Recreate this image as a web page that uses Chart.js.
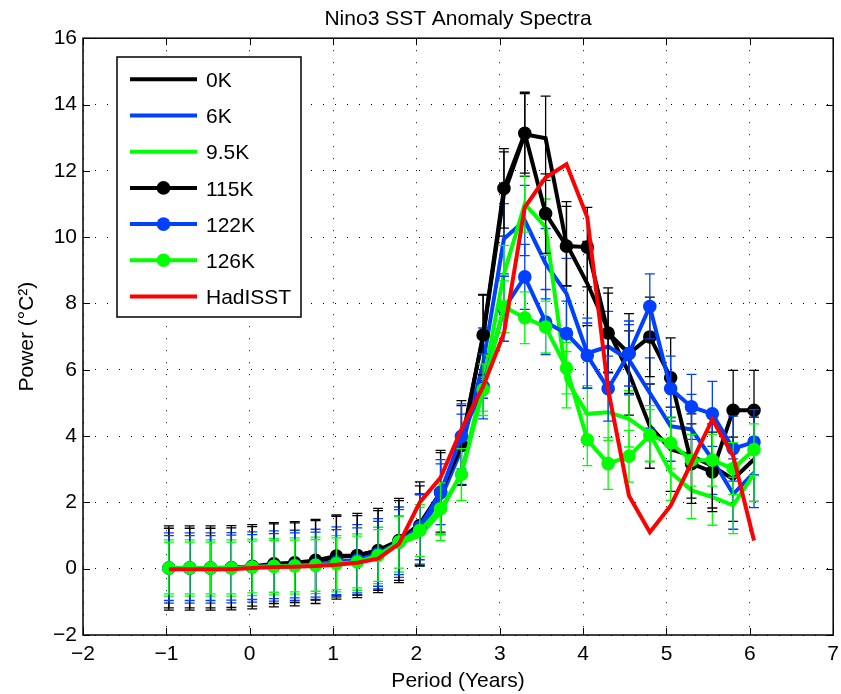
<!DOCTYPE html>
<html>
<head>
<meta charset="utf-8">
<script src="https://cdn.jsdelivr.net/npm/chart.js@4.4.1/dist/chart.umd.min.js"></script>
<style>
  html, body { margin: 0; padding: 0; background: #fff; }
</style>
</head>
<body>
<canvas id="spectra" width="841" height="694"></canvas>
<script>
// period of each spectral estimate (years)
const periods = [-0.97, -0.72, -0.47, -0.22, 0.03, 0.29, 0.54, 0.79, 1.04, 1.29, 1.54, 1.79, 2.04, 2.29, 2.54,
                 2.80, 3.05, 3.30, 3.55, 3.80, 4.05, 4.30, 4.55, 4.80, 5.05, 5.30, 5.55, 5.80, 6.05];

const power0K   = [0.02, 0.02, 0.02, 0.03, 0.06, 0.12, 0.15, 0.22, 0.35, 0.40, 0.55, 0.85, 1.35, 2.30, 3.80,
                   7.00, 11.30, 13.10, 12.98, 9.80, 8.60, 7.20, 5.90, 4.30, 3.60, 3.40, 3.10, 2.70, 3.30];
const power6K   = [0.02, 0.02, 0.02, 0.03, 0.05, 0.08, 0.10, 0.13, 0.20, 0.27, 0.45, 0.80, 1.20, 2.10, 3.60,
                   6.20, 9.95, 10.50, 9.20, 8.30, 6.50, 6.70, 6.30, 5.30, 4.30, 4.20, 3.30, 2.25, 2.90];
const power9_5K = [0.02, 0.02, 0.02, 0.02, 0.04, 0.06, 0.08, 0.10, 0.15, 0.20, 0.40, 0.75, 1.00, 1.70, 2.90,
                   5.60, 8.90, 11.00, 10.30, 5.70, 4.67, 4.72, 4.52, 4.07, 2.91, 2.36, 2.16, 1.91, 2.87];
const power115K = [0.02, 0.02, 0.02, 0.03, 0.07, 0.15, 0.18, 0.25, 0.38, 0.40, 0.55, 0.85, 1.30, 2.30, 3.72,
                   7.05, 11.47, 13.13, 10.71, 9.73, 9.70, 7.11, 6.49, 6.99, 5.76, 3.17, 2.92, 4.78, 4.78];
const power122K = [0.02, 0.02, 0.02, 0.03, 0.05, 0.08, 0.10, 0.12, 0.20, 0.25, 0.45, 0.80, 1.25, 2.31, 3.99,
                   5.50, 7.84, 8.80, 7.44, 7.09, 6.43, 5.43, 6.49, 7.91, 5.43, 4.88, 4.67, 3.62, 3.82];
const power126K = [0.02, 0.02, 0.02, 0.02, 0.05, 0.07, 0.08, 0.10, 0.15, 0.20, 0.40, 0.80, 1.15, 1.81, 2.84,
                   5.40, 7.90, 7.57, 7.29, 6.05, 3.89, 3.17, 3.39, 4.02, 3.79, 3.27, 3.27, 3.02, 3.59];
const powerHadISST = [-0.02, -0.02, -0.02, -0.02, 0.02, 0.05, 0.06, 0.08, 0.12, 0.18, 0.30, 0.75, 2.00, 2.75, 4.20,
                      5.50, 7.10, 10.90, 11.80, 12.20, 10.60, 5.40, 2.20, 1.10, 1.90, 3.20, 4.50, 3.40, 0.85];

// half length of the error bars, one per series (HadISST has none)
const errorHalf = [1.27, 1.06, 0.85, 1.20, 0.98, 0.78, 0];

const seriesNames = ['0K', '6K', '9.5K', '115K', '122K', '126K', 'HadISST'];
const seriesValues = [power0K, power6K, power9_5K, power115K, power122K, power126K, powerHadISST];
const seriesColors = ['#000000', '#0040ff', '#00ff00', '#000000', '#0040ff', '#00ff00', '#ff0000'];
const withMarkers = [false, false, false, true, true, true, false];

const xTicks = [-2, -1, 0, 1, 2, 3, 4, 5, 6, 7];
const yTicks = [-2, 0, 2, 4, 6, 8, 10, 12, 14, 16];

const FONT = "'Liberation Sans', Arial, Helvetica, sans-serif";

const datasets = seriesNames.map((name, i) => ({
    label: name,
    data: periods.map((p, j) => ({ x: p, y: seriesValues[i][j] })),
    borderColor: seriesColors[i],
    backgroundColor: seriesColors[i],
    borderWidth: 4,
    pointRadius: withMarkers[i] ? 5.8 : 0,
    pointBorderWidth: 2,
    pointBackgroundColor: seriesColors[i],
    pointBorderColor: seriesColors[i],
    errorHalf: errorHalf[i],
    order: seriesNames.length - i, // first series at the bottom, HadISST on top
    tension: 0
}));

// error bars, drawn right after their own series (like matlab errorbar)
const errorBars = {
    id: 'errorBars',
    afterDatasetDraw(chart, args) {
        const ds = chart.data.datasets[args.index];
        if (!ds.errorHalf) return;
        const { ctx, scales: { x, y } } = chart;
        ctx.save();
        ctx.strokeStyle = ds.borderColor;
        ctx.lineWidth = 1.3;
        ctx.beginPath();
        ds.data.forEach(pt => {
            const px = x.getPixelForValue(pt.x);
            const top = y.getPixelForValue(pt.y + ds.errorHalf);
            const bot = y.getPixelForValue(pt.y - ds.errorHalf);
            ctx.moveTo(px, top); ctx.lineTo(px, bot);
            ctx.moveTo(px - 5, top); ctx.lineTo(px + 5, top);
            ctx.moveTo(px - 5, bot); ctx.lineTo(px + 5, bot);
        });
        ctx.stroke();
        ctx.restore();
    }
};

// box round the axes, inward ticks and the legend
const frameAndLegend = {
    id: 'frameAndLegend',
    afterDraw(chart) {
        const { ctx, chartArea: a, scales: { x, y } } = chart;
        ctx.save();
        ctx.strokeStyle = '#000';
        ctx.lineWidth = 1;
        ctx.beginPath();
        xTicks.forEach(v => {
            const px = Math.round(x.getPixelForValue(v)) + 0.5;
            ctx.moveTo(px, a.bottom); ctx.lineTo(px, a.bottom - 7);
            ctx.moveTo(px, a.top); ctx.lineTo(px, a.top + 7);
        });
        yTicks.forEach(v => {
            const py = Math.round(y.getPixelForValue(v)) + 0.5;
            ctx.moveTo(a.left, py); ctx.lineTo(a.left + 7, py);
            ctx.moveTo(a.right, py); ctx.lineTo(a.right - 7, py);
        });
        ctx.stroke();
        ctx.lineWidth = 1.5;
        ctx.strokeRect(a.left, a.top, a.right - a.left, a.bottom - a.top);

        // legend
        const lx = 117, ly = 57, lw = 184, lh = 260;
        ctx.fillStyle = '#fff';
        ctx.fillRect(lx, ly, lw, lh);
        ctx.strokeRect(lx, ly, lw, lh);
        ctx.font = '21px ' + FONT;
        ctx.textBaseline = 'middle';
        ctx.textAlign = 'left';
        seriesNames.forEach((name, i) => {
            const ry = 79.3 + i * 36.2;
            ctx.strokeStyle = seriesColors[i];
            ctx.lineWidth = 4;
            ctx.beginPath();
            ctx.moveTo(130, ry); ctx.lineTo(197, ry);
            ctx.stroke();
            if (withMarkers[i]) {
                ctx.fillStyle = seriesColors[i];
                ctx.beginPath();
                ctx.arc(163.5, ry, 6.8, 0, Math.PI * 2);
                ctx.fill();
            }
            ctx.fillStyle = '#000';
            ctx.fillText(name, 206, ry + 2);
        });
        ctx.restore();
    }
};

new Chart(document.getElementById('spectra'), {
    type: 'line',
    data: { datasets },
    options: {
        responsive: false,
        animation: false,
        devicePixelRatio: 1,
        events: [],
        layout: { padding: { right: 4 } },
        plugins: {
            legend: { display: false },
            tooltip: { enabled: false },
            title: {
                display: true,
                fullSize: false,
                text: 'Nino3 SST Anomaly Spectra',
                color: '#000',
                font: { family: FONT, size: 21, weight: 'normal' },
                padding: { top: 7, bottom: 6 }
            }
        },
        scales: {
            x: {
                type: 'linear',
                min: -2,
                max: 7,
                ticks: {
                    stepSize: 1,
                    padding: 7,
                    color: '#000',
                    maxRotation: 0,
                    font: { family: FONT, size: 21 },
                    callback: v => String(v).replace('-', '\u2212')
                },
                grid: { color: '#000', lineWidth: 1, drawTicks: false },
                border: { display: false, dash: [1, 11] },
                title: {
                    display: true,
                    text: 'Period (Years)',
                    color: '#000',
                    font: { family: FONT, size: 21 },
                    padding: { top: 2, bottom: 0 }
                },
                afterFit(s) { s.height = 59; s.paddingLeft = 0; s.paddingRight = 0; }
            },
            y: {
                min: -2,
                max: 16,
                ticks: {
                    stepSize: 2,
                    padding: 6,
                    color: '#000',
                    font: { family: FONT, size: 21 },
                    callback: v => String(v).replace('-', '\u2212')
                },
                grid: { color: '#000', lineWidth: 1, drawTicks: false },
                border: { display: false, dash: [1, 11] },
                title: {
                    display: true,
                    text: 'Power (\u00B0C\u00B2)',
                    color: '#000',
                    font: { family: FONT, size: 21 },
                    padding: { top: 15, bottom: 0 }
                },
                afterFit(s) { s.width = 83; }
            }
        }
    },
    plugins: [errorBars, frameAndLegend]
});
</script>
</body>
</html>
